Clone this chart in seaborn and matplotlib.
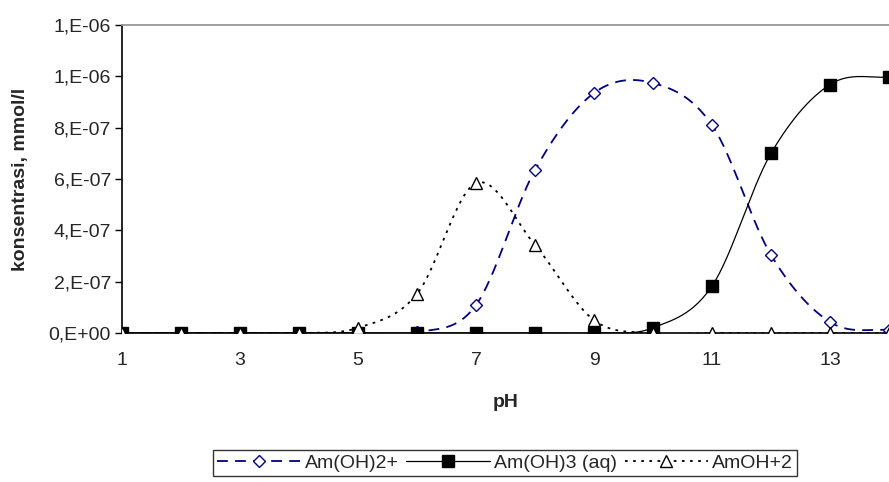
import numpy as np
import pandas as pd
import matplotlib
matplotlib.use("Agg")
import matplotlib.pyplot as plt
from matplotlib.lines import Line2D
import seaborn as sns

ph = [1, 2, 3, 4, 5, 6, 7, 8, 9, 10, 11, 12, 13, 14]
am_oh2 = [0, 0, 0, 0, 0, 0.002e-6, 1.09e-7, 6.35e-7, 9.35e-7, 9.74e-7, 8.1e-7, 3.04e-7, 0.43e-7, 0.12e-7]
am_oh3 = [0, 0, 0, 0, 0, 0, 0, 0, 0, 0.2e-7, 1.83e-7, 7.0e-7, 9.68e-7, 9.97e-7]
amoh2 = [0, 0, 0, 0, 0.2e-7, 1.52e-7, 5.84e-7, 3.43e-7, 0.5e-7, 0.0, 0, 0, 0, 0]
names = ["Am(OH)2+", "Am(OH)3 (aq)", "AmOH+2"]
ytick_vals = [0, 2e-7, 4e-7, 6e-7, 8e-7, 1.0e-6, 1.2e-6]
ytick_labels = ["0,E+00", "2,E-07", "4,E-07", "6,E-07", "8,E-07", "1,E-06", "1,E-06"]
xticks = [1, 3, 5, 7, 9, 11, 13]


def smooth(x, y, n=30):
    # Excel-like smoothed line (Catmull-Rom through the data points)
    x = np.asarray(x, float)
    y = np.asarray(y, float)
    px = np.concatenate([[2 * x[0] - x[1]], x, [2 * x[-1] - x[-2]]])
    py = np.concatenate([[y[0]], y, [y[-1]]])
    xs, ys = [], []
    t = np.linspace(0, 1, n, endpoint=False)
    for i in range(1, len(px) - 2):
        p0, p1, p2, p3 = px[i - 1:i + 3]
        q0, q1, q2, q3 = py[i - 1:i + 3]
        for arr, a0, a1, a2, a3 in ((xs, p0, p1, p2, p3), (ys, q0, q1, q2, q3)):
            arr.extend(0.5 * ((2 * a1) + (-a0 + a2) * t + (2 * a0 - 5 * a1 + 4 * a2 - a3) * t ** 2
                              + (-a0 + 3 * a1 - 3 * a2 + a3) * t ** 3))
    xs.append(x[-1]); ys.append(y[-1])
    return np.array(xs), np.array(ys)


sns.set_style("white")
plt.rcParams['font.family'] = ['Liberation Sans', 'DejaVu Sans']

fig = plt.figure(figsize=(8.89, 4.82), dpi=100)
ax = fig.add_axes([122 / 889, 149 / 482, 1 - 122 / 889, 308 / 482])

navy = "#000080"
styles = [
    dict(color=navy, ls=(0, (6, 4)), lw=1.3, marker="D", mfc="white", mec=navy, ms=6.5, mew=1.0),
    dict(color="black", ls="-", lw=0.9, marker="s", mfc="black", mec="black", ms=8, mew=1.0),
    dict(color="black", ls=(0, (1.5, 3)), lw=1.3, marker="^", mfc="white", mec="black", ms=9, mew=1.0),
]
series = [am_oh2, am_oh3, amoh2]

for name, vals, st in zip(names, series, styles):
    sx, sy = smooth(ph, vals)
    df = pd.DataFrame({"pH": sx, "c": sy})
    sns.lineplot(data=df, x="pH", y="c", ax=ax, color=st["color"], lw=st["lw"],
                 linestyle=st["ls"], sort=False, estimator=None, legend=False)
    ax.plot(ph, vals, ls="none", marker=st["marker"], mfc=st["mfc"], mec=st["mec"],
            ms=st["ms"], mew=st["mew"], zorder=5)

ax.set_xlim(1, 14)
ax.set_ylim(0, 1.2e-6)
ax.set_yticks(ytick_vals)
ax.set_yticklabels(ytick_labels)
ax.set_xticks(xticks)
ax.set_xticklabels([str(v) for v in xticks])
ax.tick_params(axis="y", direction="out", length=5, width=1, color="black", labelsize=14, pad=3, left=True)
ax.tick_params(axis="x", length=0, labelsize=14, pad=14)
ax.set_xlabel("pH", fontsize=14, fontweight="bold", labelpad=18)
ax.set_ylabel("konsentrasi, mmol/l", fontsize=14, fontweight="bold", labelpad=14)

ax.spines["right"].set_visible(False)
ax.spines["top"].set_color("#999999")
ax.spines["top"].set_linewidth(1.3)
ax.spines["left"].set_color("black")
ax.spines["left"].set_linewidth(1.2)
ax.spines["bottom"].set_color("black")
ax.spines["bottom"].set_linewidth(1.2)

handles = []
for st in styles:
    handles.append(Line2D([0], [0], color=st["color"], ls=st["ls"], lw=st["lw"], marker=st["marker"],
                          mfc=st["mfc"], mec=st["mec"], ms=st["ms"], mew=st["mew"]))
leg = fig.legend(handles, names, loc="center", bbox_to_anchor=(505 / 889, 1 - 463 / 482), ncol=3,
                 fontsize=14, frameon=True, fancybox=False, edgecolor="black", handlelength=4.3,
                 handletextpad=0.2, columnspacing=0.4, borderpad=0.2)
leg.get_frame().set_linewidth(1.0)

fig.savefig("out.png", dpi=100)
